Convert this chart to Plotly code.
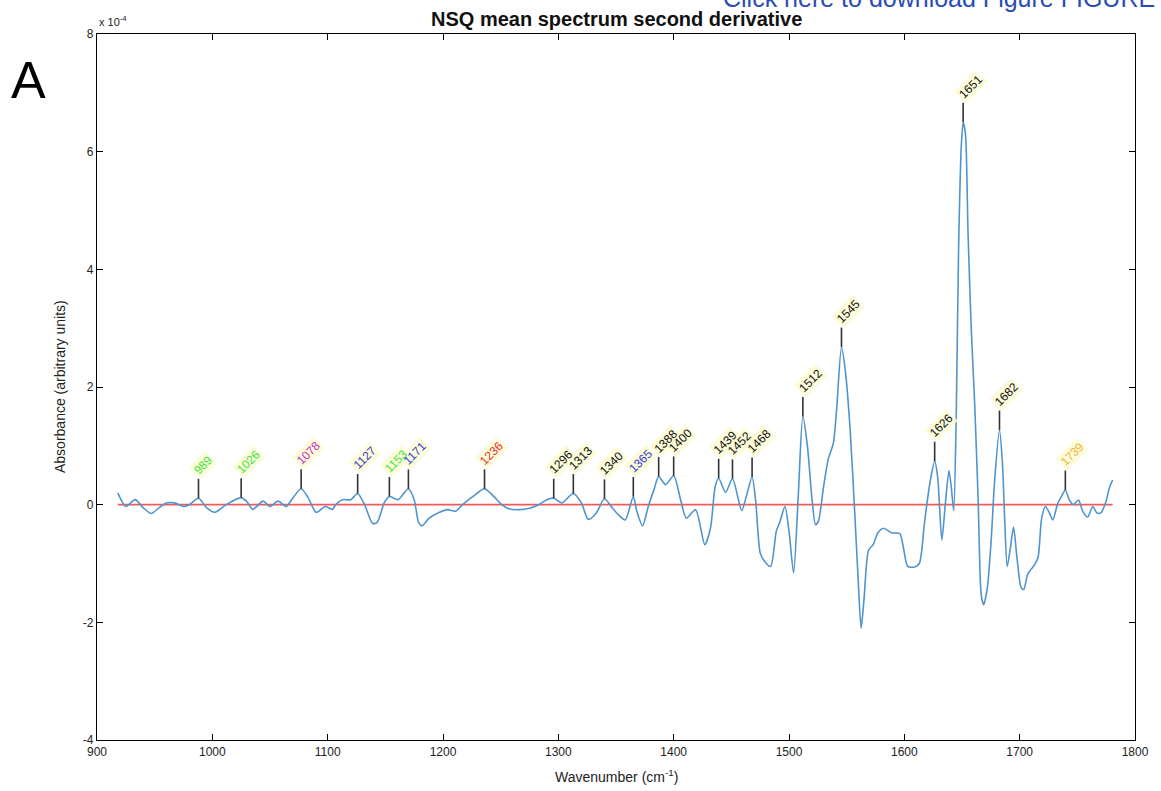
import plotly.graph_objects as go

# ---- data (second-derivative values in units of 1e-4) ----
wavenumber = [918, 925, 933, 940, 947, 954, 960, 967, 975, 980, 988, 995, 1002, 1012, 1025, 1030, 1035,
              1044, 1050, 1057, 1064, 1070, 1077, 1083, 1090, 1098, 1104, 1107, 1113, 1120, 1126, 1132,
              1139, 1143, 1149, 1153.5, 1161, 1170, 1175, 1179, 1182, 1188, 1197, 1204, 1211, 1217, 1226,
              1236, 1244, 1251, 1257, 1266, 1275, 1283, 1290, 1296, 1303, 1313, 1320, 1326, 1333, 1340,
              1347, 1352, 1358, 1365, 1368, 1373, 1378, 1383, 1387, 1393, 1400, 1406, 1411, 1419, 1427,
              1432, 1436, 1439, 1445, 1451, 1459, 1463, 1468, 1471, 1475, 1478, 1484, 1489, 1492, 1496.5,
              1500, 1504, 1508, 1512, 1516, 1520, 1523, 1525.5, 1530, 1534, 1538.5, 1541.5, 1545.5, 1549,
              1553, 1557, 1560, 1562.5, 1565, 1569, 1573, 1577, 1582, 1589, 1596, 1599, 1603, 1609, 1613,
              1617.5, 1622, 1626.3, 1629, 1632.5, 1635.5, 1638.7, 1640.7, 1642.8, 1645, 1647, 1649.4, 1651,
              1653, 1655.2, 1658, 1661, 1664, 1666.7, 1668.8, 1672, 1675.4, 1678.3, 1682.5, 1685, 1687,
              1689.2, 1692.2, 1694.7, 1697.6, 1701.3, 1703.6, 1707, 1713, 1716, 1719, 1722.3, 1725.8,
              1728.7, 1733, 1736.5, 1739.6, 1743, 1746.5, 1751, 1754.6, 1759, 1763.3, 1767, 1770.4,
              1774.8, 1777.7, 1780.6]
absorbance = [0.20, -0.03, 0.085, -0.05, -0.15, -0.05, 0.03, 0.03, -0.03, 0.0, 0.11, -0.05, -0.13, 0.0,
              0.12, 0.05, -0.08, 0.06, -0.03, 0.06, -0.03, 0.12, 0.27, 0.12, -0.13, -0.03, -0.08, 0.0,
              0.085, 0.085, 0.19, 0.0, -0.32, -0.30, 0.03, 0.14, 0.085, 0.27, 0.085, -0.31, -0.36, -0.23,
              -0.13, -0.085, -0.11, 0.0, 0.14, 0.27, 0.14, 0.0, -0.07, -0.085, -0.06, 0.0, 0.085, 0.11,
              0.03, 0.19, 0.03, -0.25, -0.14, 0.10, -0.06, -0.17, -0.26, 0.14, -0.11, -0.36, -0.03, 0.26,
              0.48, 0.34, 0.49, 0.085, -0.23, -0.085, -0.68, -0.39, 0.31, 0.45, 0.21, 0.44, -0.10, 0.14,
              0.47, 0.085, -0.82, -0.94, -1.05, -0.45, -0.30, -0.03, -0.45, -1.16, 0.14, 1.50, 0.99,
              0.085, -0.34, -0.28, 0.31, 0.77, 1.05, 1.68, 2.68, 2.25, 1.28, -0.14, -1.28, -2.1, -1.62,
              -0.77, -0.68, -0.48, -0.40, -0.48, -0.49, -0.71, -1.05, -1.06, -1.0, -0.3, 0.35, 0.74, 0.45,
              -0.6, 0.0, 0.58, 0.3, -0.1, 1.5, 4.3, 6.1, 6.5, 6.3, 4.64, 3.0, 1.71, 0.08, -1.54, -1.70,
              -1.41, -0.57, 0.41, 1.27, 0.73, -0.24, -1.05, -0.70, -0.38, -0.89, -1.41, -1.44, -1.18,
              -1.02, -0.89, -0.24, -0.03, -0.14, -0.26, 0.02, 0.15, 0.25, 0.08, 0.0, 0.08, -0.11, -0.21,
              -0.03, -0.14, -0.14, 0.05, 0.28, 0.42]

peak_positions = [988, 1025, 1077, 1126, 1153.5, 1170, 1236, 1296, 1313, 1340, 1365, 1387, 1400, 1439,
                  1451, 1468, 1512, 1545.5, 1626.3, 1651, 1682.5, 1739.6]
peak_values = [0.11, 0.12, 0.27, 0.19, 0.14, 0.27, 0.27, 0.11, 0.19, 0.10, 0.14, 0.48, 0.49, 0.45,
               0.44, 0.47, 1.50, 2.68, 0.74, 6.5, 1.27, 0.25]
peak_labels = ["989", "1026", "1078", "1127", "1153", "1171", "1236", "1296", "1313", "1340", "1365",
               "1388", "1400", "1439", "1452", "1468", "1512", "1545", "1626", "1651", "1682", "1739"]
peak_colors = ["#3ee63e", "#3ee63e", "#c832c8", "#3a3ad2", "#3ee63e", "#3a3ad2", "#ee3030", "#111111",
               "#111111", "#111111", "#3a3ad2", "#111111", "#111111", "#111111", "#111111", "#111111",
               "#111111", "#111111", "#111111", "#111111", "#111111", "#f0b43c"]

x_ticks = [900, 1000, 1100, 1200, 1300, 1400, 1500, 1600, 1700, 1800]
y_ticks = [-4, -2, 0, 2, 4, 6, 8]

STEM = 0.33
FONT = "Liberation Sans, Arial, Helvetica, sans-serif"

fig = go.Figure()

# zero baseline
fig.add_trace(go.Scatter(x=[wavenumber[0], wavenumber[-1]], y=[0, 0], mode="lines",
                         line=dict(color="#f05a5a", width=1.6), hoverinfo="skip", showlegend=False))

# spectrum
fig.add_trace(go.Scatter(x=wavenumber, y=absorbance, mode="lines",
                         line=dict(color="#4f94cd", width=1.6, shape="spline", smoothing=0.7),
                         showlegend=False))

# peak stems
sx, sy = [], []
for p, v in zip(peak_positions, peak_values):
    sx += [p, p, None]
    sy += [v, v + STEM, None]
fig.add_trace(go.Scatter(x=sx, y=sy, mode="lines", line=dict(color="#333333", width=1.6),
                         hoverinfo="skip", showlegend=False))

label_common = dict(xref="x", yref="y", showarrow=False, textangle=-45, xanchor="left",
                    yanchor="bottom", xshift=-10, yshift=-1, borderpad=1)
annotations = []
# first pass: yellow backgrounds only
for p, v, lab in zip(peak_positions, peak_values, peak_labels):
    annotations.append(dict(x=p, y=v + STEM, text=lab, bgcolor="rgba(252,250,212,0.85)",
                            font=dict(family=FONT, size=12, color="rgba(0,0,0,0)"), **label_common))
# second pass: label texts on top
for p, v, lab, col in zip(peak_positions, peak_values, peak_labels, peak_colors):
    annotations.append(dict(x=p, y=v + STEM, text=lab,
                            font=dict(family=FONT, size=12, color=col), **label_common))

annotations += [
    dict(text="<b>NSQ mean spectrum second derivative</b>", x=0.5, y=1.0, xref="paper", yref="paper",
         yanchor="bottom", yshift=2, showarrow=False, xanchor="center",
         font=dict(family=FONT, size=20, color="#111111")),
    dict(text="Click here to download Figure FIGURE", x=(722 - 97) / 1040, y=1 + (34 - 14) / 706,
         xref="paper", yref="paper", xanchor="left", yanchor="bottom", showarrow=False,
         font=dict(family=FONT, size=25, color="#2a4cb5")),
    dict(text="A", x=(28 - 97) / 1040, y=1 - (80 - 34) / 706, xref="paper", yref="paper",
         xanchor="center", yanchor="middle", showarrow=False,
         font=dict(family=FONT, size=52, color="#000000")),
    dict(text="x 10<sup>-4</sup>", x=0, y=1, xref="paper", yref="paper", xanchor="left",
         yanchor="bottom", yshift=4, showarrow=False,
         font=dict(family=FONT, size=11, color="#222222")),
    dict(text="Wavenumber (cm<sup>-1</sup>)", x=0.5, y=0, xref="paper", yref="paper",
         xanchor="center", yanchor="top", yshift=-25, showarrow=False,
         font=dict(family=FONT, size=14, color="#222222")),
    dict(text="Absorbance (arbitrary units)", x=0, y=0.5, xref="paper", yref="paper",
         xanchor="right", yanchor="middle", xshift=-27, textangle=-90, showarrow=False,
         font=dict(family=FONT, size=14, color="#222222")),
]

axis_common = dict(showline=True, linecolor="#000000", linewidth=1.2, mirror="ticks",
                   ticks="inside", ticklen=6, tickcolor="#000000", showgrid=False, zeroline=False,
                   tickfont=dict(family=FONT, size=12, color="#222222"))

fig.update_layout(
    width=1161, height=791,
    margin=dict(l=97, r=24, t=34, b=51),
    paper_bgcolor="white", plot_bgcolor="white",
    xaxis=dict(range=[900, 1800], tickvals=x_ticks, ticktext=[str(t) for t in x_ticks], **axis_common),
    yaxis=dict(range=[-4, 8], tickvals=y_ticks, ticktext=[str(t) for t in y_ticks], **axis_common),
    annotations=annotations,
    showlegend=False,
)

fig.write_html("out.html", config={"displayModeBar": False},
               post_script="document.body.style.margin='0';document.body.style.overflow='hidden';")
